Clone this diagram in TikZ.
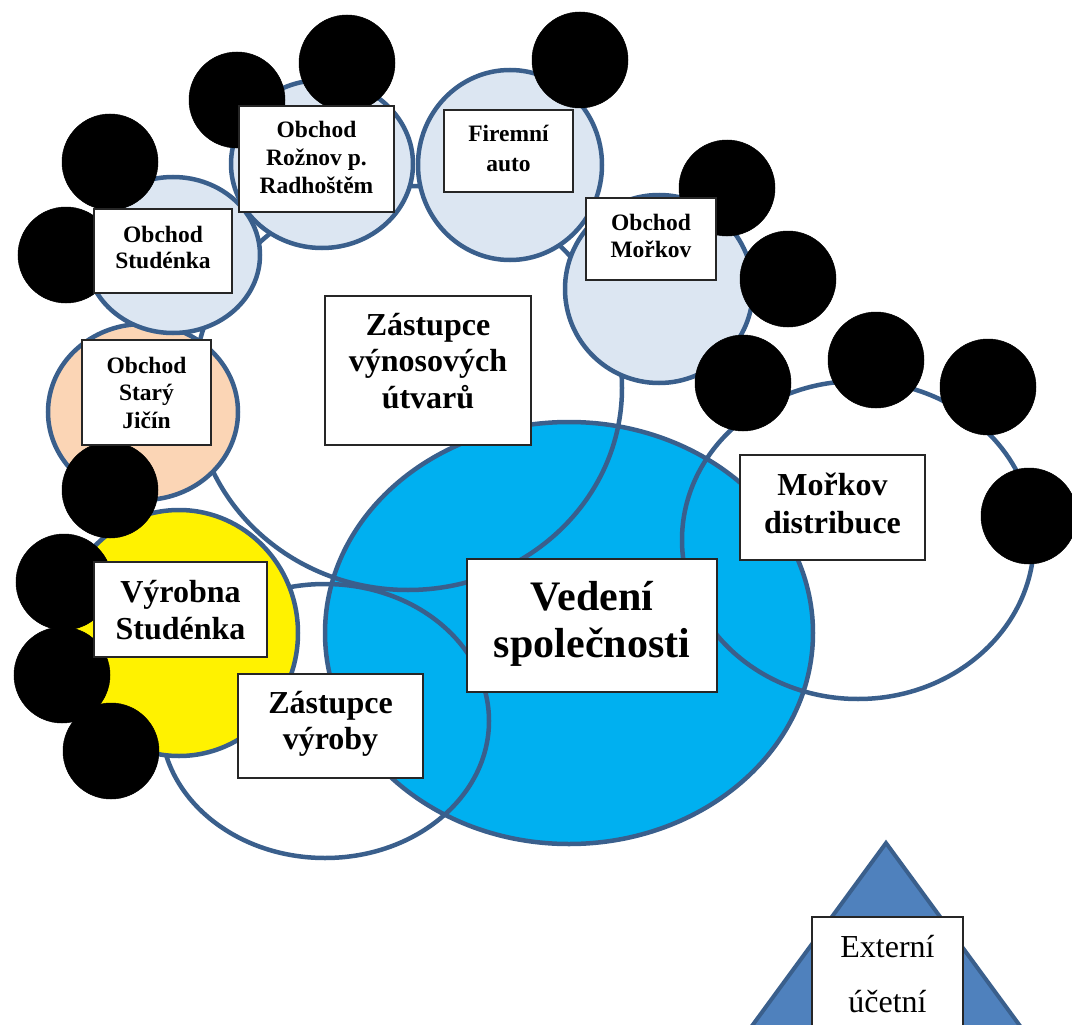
\documentclass[tikz,border=0pt]{standalone}
\usepackage{fontspec}
\setmainfont{Liberation Serif}
\definecolor{lineblue}{HTML}{3A5F8C}
\definecolor{ltblue}{HTML}{DCE6F2}
\definecolor{peach}{HTML}{FBD5B5}
\definecolor{vblue}{HTML}{00B0F0}
\definecolor{triblue}{HTML}{4F81BD}
\newcommand{\mlines}[1]{\begin{tabular}[t]{@{}c@{}}#1\end{tabular}}
\tikzset{
  ring/.style={draw=lineblue, line width=4.5pt},
  blob/.style={fill=black, draw=black, line width=0.5pt},
  tbox/.style={draw=black!85, line width=1.5pt, fill=white, anchor=north west, inner sep=0pt, outer sep=0pt},
  lbl/.style={anchor=base, inner sep=0pt, outer sep=0pt},
  small/.style={font=\fontsize{23.5}{#1}\selectfont\bfseries},
  big/.style={font=\fontsize{32}{#1}\selectfont\bfseries}
}
\begin{document}
\begin{tikzpicture}[x=1pt, y=-1pt]
\useasboundingbox (0,0) rectangle (1072,1025);
\clip (0,0) rectangle (1072,1025);
% main ellipse
\draw[ring, fill=vblue] (569,633) ellipse [x radius=244pt, y radius=211pt];
% unfilled rings
\draw[ring] (408,388) ellipse [x radius=214pt, y radius=202pt];
\draw[ring] (858,540) ellipse [x radius=176pt, y radius=159pt];
\draw[ring] (325,721) ellipse [x radius=164pt, y radius=137pt];
% filled circles
\draw[ring, fill=peach] (143,412) ellipse [x radius=95pt, y radius=88pt];
\draw[ring, fill=ltblue] (173,255) ellipse [x radius=87pt, y radius=78pt];
\draw[ring, fill=ltblue] (322,164) ellipse [x radius=91pt, y radius=84pt];
\draw[ring, fill=ltblue] (510,165) ellipse [x radius=92pt, y radius=95pt];
\draw[ring, fill=ltblue] (659,289) ellipse [x radius=94pt, y radius=94pt];
\draw[ring, fill=yellow] (179,633) ellipse [x radius=119pt, y radius=123pt];
% triangle
\draw[draw=lineblue, line width=4pt, fill=triblue, line join=miter] (886,843) -- (1034,1045) -- (738,1045) -- cycle;
% black circles
\foreach \cx/\cy in {110/162, 66/255, 237/100, 347/63, 580/60, 727/188, 788/279, 743/383, 876/360, 988/387, 1029/516, 110/490, 64/582, 62/675, 111/751}
  \fill[blob] (\cx,\cy) circle [radius=48pt];
% boxes
\node[tbox, minimum width=155pt, minimum height=106pt] (rozn) at (239,106) {};
\node[tbox, minimum width=129pt, minimum height=82pt] (firem) at (444,110) {};
\node[tbox, minimum width=138pt, minimum height=84pt] (stud) at (94,209) {};
\node[tbox, minimum width=130pt, minimum height=82pt] (morkov) at (586,198) {};
\node[tbox, minimum width=129pt, minimum height=105pt] (jicin) at (82,340) {};
\node[tbox, minimum width=206pt, minimum height=149pt] (zvyn) at (325,296) {};
\node[tbox, minimum width=185pt, minimum height=105pt] (mdist) at (740,455) {};
\node[tbox, minimum width=173pt, minimum height=95pt] (vyrobna) at (94,562) {};
\node[tbox, minimum width=185pt, minimum height=104pt] (zvyr) at (238,674) {};
\node[tbox, minimum width=250pt, minimum height=133pt] (vedeni) at (467,559) {};
\node[tbox, minimum width=151pt, minimum height=125pt] (ext) at (812,917) {};
% labels
\node[lbl, small=28] (rozn-t) at (316.5,138) {\mlines{Obchod\\Rožnov p.\\Radhoštěm}};
\node[lbl, small=30] (firem-t) at (508.5,142) {\mlines{Firemní\\auto}};
\node[lbl, small=26] (stud-t) at (163,242) {\mlines{Obchod\\Studénka}};
\node[lbl, small=27] (morkov-t) at (651,230) {\mlines{Obchod\\Mořkov}};
\node[lbl, small=27.5] (jicin-t) at (146.5,373) {\mlines{Obchod\\Starý\\Jičín}};
\node[lbl, big=36.5] (zvyn-t) at (428,335) {\mlines{Zástupce\\výnosových\\útvarů}};
\node[lbl, big=38] (mdist-t) at (832.5,495) {\mlines{Mořkov\\distribuce}};
\node[lbl, big=37] (vyrobna-t) at (180.5,602) {\mlines{Výrobna\\Studénka}};
\node[lbl, big=36] (zvyr-t) at (330.5,713) {\mlines{Zástupce\\výroby}};
\node[lbl, font=\fontsize{42}{47}\selectfont\bfseries] (vedeni-t) at (592,610) {\mlines{Vedení\\společnosti}};
\node[lbl, font=\fontsize{32}{55}\selectfont] (ext-t) at (887.5,957) {\mlines{Externí\\účetní}};
\end{tikzpicture}
\end{document}
